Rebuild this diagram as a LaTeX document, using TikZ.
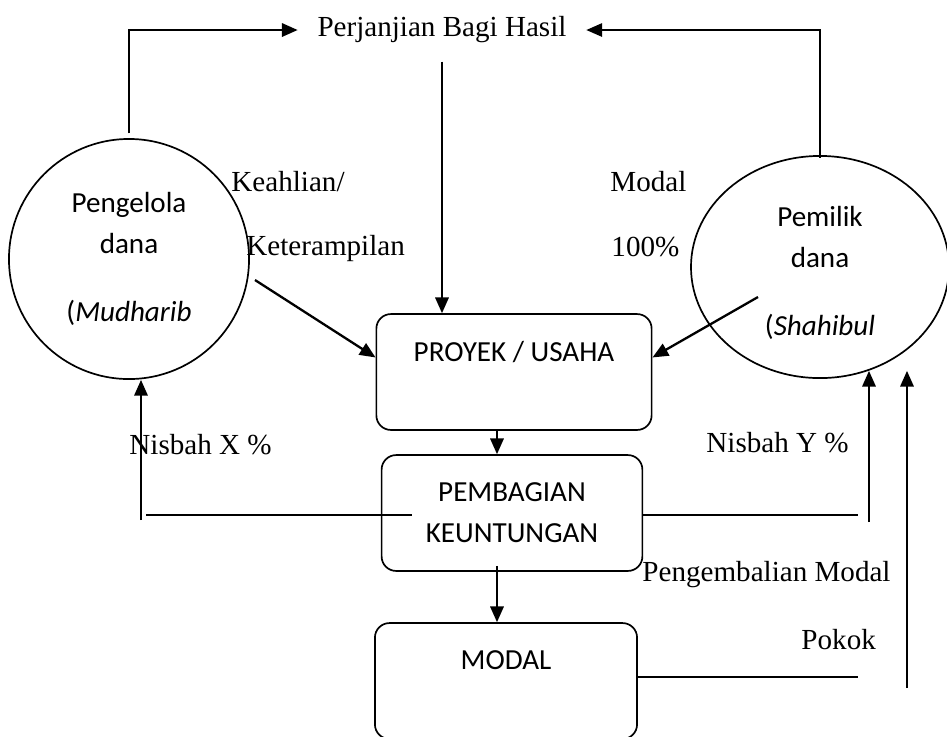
\documentclass[tikz,border=0pt]{standalone}
\usepackage{fontspec}
\setmainfont{Liberation Serif}
\newfontfamily\calibri{Carlito}
\usetikzlibrary{shapes.geometric,arrows.meta,calc}

\begin{document}
\begin{tikzpicture}[
  x=0.0145cm, y=-0.0145cm,
  every node/.style={font=\fontsize{12}{17}\selectfont},
  party/.style={draw, line width=0.7pt, inner sep=0pt, align=center, font=\calibri\fontsize{12}{17}\selectfont},
  block/.style={draw, line width=0.7pt, rounded corners=6pt, minimum height=1.68cm, align=center, font=\calibri\fontsize{12}{17}\selectfont},
  lbl/.style={inner sep=0pt, anchor=west},
  arrow/.style={-{Triangle[length=6.5pt,width=5.5pt]}, line width=0.95pt},
  link/.style={line width=0.95pt},
]
\useasboundingbox (0,0) rectangle (947,736);

% Nodes
\node[inner xsep=8pt] (perj) at (442,30) {Perjanjian Bagi Hasil};
\node[party, circle, minimum size=3.48cm] (mudharib) at (129,259) {Pengelola\\dana\\[11pt](\textit{Mudharib}};
\node[party, ellipse, minimum width=3.74cm, minimum height=3.22cm] (shahibul) at (820,267) {\rule{0pt}{13pt}Pemilik\\dana\\[11pt](\textit{Shahibul}};
\node[block, minimum width=3.99cm] (proyek) at (514,372) {PROYEK / USAHA\\\mbox{}};
\node[block, minimum width=3.78cm] (bagi) at (512,513) {PEMBAGIAN\\KEUNTUNGAN};
\node[block, minimum width=3.80cm] (modal) at (506,681) {MODAL\\\mbox{}};

% Labels
\node[lbl] (keahlian) at (231,182) {Keahlian/};
\node[lbl] (terampil) at (246,248) {Keterampilan};
\node[lbl] (modaltxt) at (610,182) {Modal};
\node[lbl] (persen) at (611,247) {100\%};
\node[lbl] (nisbahx) at (129,445) {Nisbah X \%};
\node[lbl] (nisbahy) at (706,443) {Nisbah Y \%};
\node[lbl] (kembali) at (642,575) {Pengembalian Modal};
\node[lbl] (pokok) at (801,640) {Pokok};

% Free ends
\coordinate (skillfrom) at (255,280);
\coordinate (fundfrom) at (758,297);
\coordinate (xline) at (146,515);
\coordinate (xfoot) at (141,520);
\coordinate (yfoot) at (869,522);
\coordinate (pfoot) at (907,688);
\coordinate (rend) at (858,0);
\coordinate (axis) at (497,0);

% Arrows
\draw[arrow] ([yshift=2pt]mudharib.north) |- (perj.west);
\draw[link, -{Triangle[length=6.5pt,width=5.5pt]}, line width=0.7pt] ([yshift=-1pt]shahibul.north) |- (perj.east);
\draw[arrow] ([yshift=-4pt]perj.south) -- (perj.south |- proyek.north);
\draw[arrow] (skillfrom) -- ([yshift=6pt]proyek.west);
\draw[arrow] (fundfrom) -- ([yshift=6pt]proyek.east);
\draw[arrow] (proyek.south -| axis) -- (bagi.north -| axis);
\draw[arrow] ($(bagi.south -| axis)+(0,-6)$) -- (modal.north -| axis);

% Nisbah lines
\draw[link] (xline) -- ($(bagi.west |- xline)+(31,0)$);
\draw[arrow] (xfoot) -- (mudharib.south -| xfoot);
\draw[link] (bagi.east |- xline) -- (rend |- xline);
\draw[arrow] (yfoot) -- (shahibul.-65 -| yfoot);

% Pengembalian modal
\draw[link] ($(modal.east)+(0,-4)$) -- ($(modal.east -| rend)+(0,-4)$);
\draw[arrow] (pfoot) -- (shahibul.-65 -| pfoot);
\end{tikzpicture}
\end{document}
